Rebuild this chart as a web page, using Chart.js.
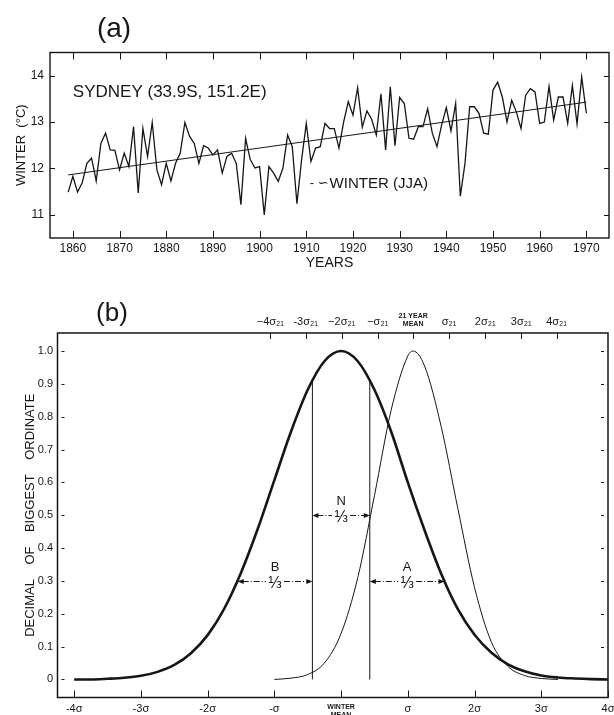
<!DOCTYPE html>
<html>
<head>
<meta charset="utf-8">
<title>Sydney winter temperature and tercile curves</title>
<script src="https://cdn.jsdelivr.net/npm/chart.js@4.4.1/dist/chart.umd.min.js"></script>
<style>
  html, body { margin: 0; padding: 0; background: #fff; overflow: hidden; }
  #wrapA { position: absolute; left: 0; top: 0; width: 614px; height: 300px; }
  #wrapB { position: absolute; left: 0; top: 300px; width: 614px; height: 415px; }
</style>
</head>
<body>
<div id="wrapA"><canvas id="winterChart" width="614" height="300"></canvas></div>
<div id="wrapB"><canvas id="curveChart" width="614" height="415"></canvas></div>
<script>
// ---------- data, panel (a) ----------
var firstYear = 1859;
// winter (JJA) mean temperature, Sydney, 1859..1970
var winterTemps = [
  11.49, 11.83, 11.49, 11.69, 12.11, 12.22, 11.73, 12.54, 12.76, 12.40, 12.39,   // 1859-1869
  11.97, 12.33, 12.04, 12.90, 11.47, 12.86, 12.26, 12.99, 11.97, 11.65,          // 1870-1879
  12.11, 11.73, 12.11, 12.33, 12.99, 12.69, 12.54, 12.11, 12.49, 12.44,          // 1880-1889
  12.29, 12.40, 11.90, 12.26, 12.33, 12.11, 11.22, 12.65, 12.19, 12.01,          // 1890-1899
  12.04, 11.00, 12.04, 11.90, 11.72, 12.01, 12.72, 12.47, 11.24, 12.19,          // 1900-1909
  12.97, 12.15, 12.44, 12.47, 12.97, 12.86, 12.86, 12.44, 13.00, 13.44,          // 1910-1919
  13.15, 13.74, 12.89, 13.24, 13.06, 12.72, 13.61, 12.40, 13.76, 12.49,          // 1920-1929
  13.53, 13.40, 12.65, 12.63, 12.90, 12.90, 13.29, 12.76, 12.47, 12.94,          // 1930-1939
  13.31, 12.81, 13.40, 11.40, 12.11, 13.33, 13.33, 13.19, 12.76, 12.74,          // 1940-1949
  13.69, 13.86, 13.54, 13.00, 13.47, 13.22, 12.86, 13.58, 13.72, 13.65,          // 1950-1959
  12.97, 13.00, 13.77, 13.04, 13.54, 13.54, 12.97, 13.79, 12.96, 13.97,          // 1960-1969
  13.19                                                                          // 1970
];
var trendYears = [1859, 1970];
var trendTemps = [11.86, 13.43];
var decadeTicks = [1860, 1870, 1880, 1890, 1900, 1910, 1920, 1930, 1940, 1950, 1960, 1970];
var tempTicks = [11, 12, 13, 14];

// ---------- data, panel (b) ----------
// winter distribution (thick), in units of sigma from the winter mean
var winterX = [-4, -3.75, -3.5, -3.25, -3, -2.75, -2.5, -2.25, -2, -1.75, -1.5, -1.25, -1, -0.75, -0.5, -0.25, 0,
               0.25, 0.5, 0.75, 1, 1.25, 1.5, 1.75, 2, 2.25, 2.5, 2.75, 3, 3.25, 3.5, 3.75, 4];
var winterY = [0, 0, 0.002, 0.005, 0.011, 0.023, 0.044, 0.08, 0.135, 0.216, 0.325, 0.458, 0.607, 0.755, 0.882, 0.969, 1.0,
               0.969, 0.882, 0.755, 0.6, 0.455, 0.322, 0.214, 0.136, 0.082, 0.046, 0.025, 0.012, 0.006, 0.003, 0.001, 0];
// 21-year mean distribution (thin)
var meanX = [-1, -0.75, -0.5, -0.25, 0, 0.25, 0.5, 0.75, 1, 1.08, 1.25, 1.5, 1.75, 2, 2.25, 2.5, 2.75, 3, 3.25];
var meanY = [0, 0.004, 0.015, 0.05, 0.14, 0.31, 0.56, 0.82, 0.985, 1.0, 0.955, 0.77, 0.52, 0.28, 0.115, 0.04, 0.012, 0.003, 0];
// tercile boundaries of the winter curve and where they meet it
var tercileX = [-0.43, 0.43];
var tercileTop = [0.91, 0.91];
// B / N / A thirds
var thirdLabels = ['B', 'N', 'A'];
var thirdFrom = [-1.55, -0.43, 0.43];
var thirdTo = [-0.43, 0.43, 1.55];
var thirdLevel = [0.3, 0.5, 0.3];

var sigmaTicks = [-4, -3, -2, -1, 0, 1, 2, 3, 4];
var sigmaLabels = ['-4\u03c3', '-3\u03c3', '-2\u03c3', '-\u03c3', ['WINTER', 'MEAN'], '\u03c3', '2\u03c3', '3\u03c3', '4\u03c3'];
var sigma21Ticks = [-1.06, -0.53, 0.01, 0.55, 1.08, 1.62, 2.16, 2.70, 3.23];
var sigma21Labels = ['\u22124\u03c3\u2082\u2081', '-3\u03c3\u2082\u2081', '\u22122\u03c3\u2082\u2081', '\u2212\u03c3\u2082\u2081',
                     ['21 YEAR', 'MEAN'], '\u03c3\u2082\u2081', '2\u03c3\u2082\u2081', '3\u03c3\u2082\u2081', '4\u03c3\u2082\u2081'];
var ordinateTicks = [0, 0.1, 0.2, 0.3, 0.4, 0.5, 0.6, 0.7, 0.8, 0.9, 1.0];

// ---------- shared bits ----------
var INK = '#161616';
var FONT = "'Liberation Sans', 'DejaVu Sans', Arial, sans-serif";

function toPoints(xs, ys) {
  return xs.map(function (x, i) { return { x: x, y: ys[i] }; });
}

// box around the plot plus inward tick marks
var framePlugin = {
  id: 'frame',
  afterDatasetsDraw: function (chart, args, opts) {
    var ctx = chart.ctx, a = chart.chartArea;
    ctx.save();
    ctx.strokeStyle = INK;
    ctx.lineWidth = opts.lineWidth;
    ctx.strokeRect(a.left, a.top, a.right - a.left, a.bottom - a.top);
    ctx.lineWidth = 1;
    opts.marks.forEach(function (m) {
      var s = chart.scales[m.scale];
      var gap = m.gap || 0;
      s.ticks.forEach(function (t) {
        var p = Math.round(s.getPixelForValue(t.value)) + 0.5;
        ctx.beginPath();
        if (m.edge === 'bottom') { ctx.moveTo(p, a.bottom); ctx.lineTo(p, a.bottom - m.len); }
        if (m.edge === 'top') { ctx.moveTo(p, a.top); ctx.lineTo(p, a.top + m.len); }
        if (m.edge === 'left') { ctx.moveTo(a.left + gap, p); ctx.lineTo(a.left + gap + m.len, p); }
        if (m.edge === 'right') { ctx.moveTo(a.right - gap, p); ctx.lineTo(a.right - gap - m.len, p); }
        ctx.stroke();
      });
    });
    ctx.restore();
  }
};

// ---------- panel (a) ----------
var panelAText = {
  id: 'panelAText',
  afterDatasetsDraw: function (chart) {
    var ctx = chart.ctx, sx = chart.scales.x, sy = chart.scales.y;
    ctx.save();
    ctx.fillStyle = INK;
    ctx.textBaseline = 'middle';
    ctx.textAlign = 'center';
    ctx.font = '28px ' + FONT;
    ctx.fillText('(a)', 114, 29);
    ctx.textAlign = 'left';
    ctx.font = '17px ' + FONT;
    ctx.fillText('SYDNEY (33.9S, 151.2E)', sx.getPixelForValue(1860), sy.getPixelForValue(13.65));
    var wx = sx.getPixelForValue(1915), wy = sy.getPixelForValue(11.67);
    ctx.font = '15px ' + FONT;
    ctx.fillText('WINTER (JJA)', wx, wy);
    ctx.textAlign = 'right';
    ctx.font = '13px ' + FONT;
    ctx.fillText('- \u223d', wx - 1, wy);
    ctx.restore();
  }
};

new Chart(document.getElementById('winterChart'), {
  type: 'line',
  data: {
    datasets: [{
      data: winterTemps.map(function (v, i) { return { x: firstYear + i, y: v }; }),
      borderColor: INK,
      borderWidth: 1.3,
      pointRadius: 0,
      tension: 0
    }, {
      data: toPoints(trendYears, trendTemps),
      borderColor: INK,
      borderWidth: 1,
      pointRadius: 0
    }]
  },
  options: {
    responsive: false,
    animation: false,
    layout: { padding: { left: 0, right: 5, top: 52.5, bottom: 0 } },
    plugins: {
      legend: { display: false },
      tooltip: { enabled: false },
      frame: {
        lineWidth: 1.4,
        marks: [
          { scale: 'x', edge: 'bottom', len: 7 },
          { scale: 'x', edge: 'top', len: 7 },
          { scale: 'y', edge: 'left', len: 5 },
          { scale: 'y', edge: 'right', len: 5 }
        ]
      }
    },
    scales: {
      x: {
        type: 'linear',
        min: 1855.1,
        max: 1974.85,
        afterBuildTicks: function (s) { s.ticks = decadeTicks.map(function (v) { return { value: v }; }); },
        afterFit: function (s) { s.height = 62; s.paddingLeft = 0; s.paddingRight = 0; },
        grid: { display: false, drawTicks: false },
        border: { display: false },
        ticks: {
          autoSkip: false, maxRotation: 0, padding: 3, color: INK,
          font: { family: FONT, size: 12 },
          callback: function (v) { return String(v); }
        },
        title: {
          display: true, text: 'YEARS', color: INK,
          font: { family: FONT, size: 14 },
          padding: { top: 0, bottom: 28.3 }
        }
      },
      y: {
        min: 10.5,
        max: 14.5,
        afterBuildTicks: function (s) { s.ticks = tempTicks.map(function (v) { return { value: v }; }); },
        afterFit: function (s) { s.width = 50; },
        grid: { display: false, drawTicks: false },
        border: { display: false },
        ticks: { padding: 6, color: INK, font: { family: FONT, size: 12 } },
        title: {
          display: true, text: 'WINTER\u00a0\u00a0(\u00b0C)', color: INK,
          font: { family: FONT, size: 13 },
          padding: { top: 13.9, bottom: 0 }
        }
      }
    }
  },
  plugins: [framePlugin, panelAText]
});

// ---------- panel (b) ----------
var thirdsPlugin = {
  id: 'thirds',
  afterDatasetsDraw: function (chart) {
    var ctx = chart.ctx, sx = chart.scales.x, sy = chart.scales.y;
    function head(x, y, dir) {
      ctx.beginPath();
      ctx.moveTo(x, y);
      ctx.lineTo(x - dir * 6, y - 2.5);
      ctx.lineTo(x - dir * 6, y + 2.5);
      ctx.closePath();
      ctx.fill();
    }
    ctx.save();
    ctx.strokeStyle = INK;
    ctx.fillStyle = INK;
    ctx.lineWidth = 1;
    thirdLabels.forEach(function (lab, i) {
      var x1 = sx.getPixelForValue(thirdFrom[i]), x2 = sx.getPixelForValue(thirdTo[i]);
      var yy = Math.round(sy.getPixelForValue(thirdLevel[i])) + 0.5;
      var cx = (x1 + x2) / 2;
      ctx.setLineDash([6, 2, 1, 2]);
      ctx.beginPath();
      ctx.moveTo(x1 + 5, yy); ctx.lineTo(cx - 9, yy);
      ctx.moveTo(cx + 9, yy); ctx.lineTo(x2 - 5, yy);
      ctx.stroke();
      ctx.setLineDash([]);
      head(x1, yy, -1);
      head(x2, yy, 1);
      ctx.textAlign = 'center';
      ctx.textBaseline = 'middle';
      ctx.font = '13px ' + FONT;
      ctx.fillText(lab, cx, yy - 14);
      ctx.font = '16px ' + FONT;
      ctx.fillText('\u2153', cx, yy + 2);
    });
    ctx.font = '26px ' + FONT;
    ctx.textAlign = 'center';
    ctx.textBaseline = 'middle';
    ctx.fillText('(b)', 112, 14);
    ctx.restore();
  }
};

function smallIfTwoLines(c) {
  var two = c.tick && Array.isArray(c.tick.label);
  return two ? { family: FONT, size: 7, weight: 'bold' } : { family: FONT, size: 11 };
}

new Chart(document.getElementById('curveChart'), {
  type: 'line',
  data: {
    datasets: [{
      data: toPoints(winterX, winterY),
      borderColor: INK, borderWidth: 2.6, pointRadius: 0,
      cubicInterpolationMode: 'monotone'
    }, {
      data: toPoints(meanX, meanY),
      borderColor: INK, borderWidth: 1, pointRadius: 0,
      cubicInterpolationMode: 'monotone'
    }, {
      data: toPoints([tercileX[0], tercileX[0]], [0, tercileTop[0]]),
      borderColor: INK, borderWidth: 1, pointRadius: 0, tension: 0
    }, {
      data: toPoints([tercileX[1], tercileX[1]], [0, tercileTop[1]]),
      borderColor: INK, borderWidth: 1, pointRadius: 0, tension: 0
    }]
  },
  options: {
    responsive: false,
    animation: false,
    layout: { padding: { left: 0, right: 6, top: 0, bottom: 0 } },
    plugins: {
      legend: { display: false },
      tooltip: { enabled: false },
      frame: {
        lineWidth: 1.5,
        marks: [
          { scale: 'x', edge: 'bottom', len: 7 },
          { scale: 'x2', edge: 'top', len: 6 },
          { scale: 'y', edge: 'left', len: 3, gap: 4 },
          { scale: 'y', edge: 'right', len: 3, gap: 4 }
        ]
      }
    },
    scales: {
      x: {
        type: 'linear',
        position: 'bottom',
        min: -4.25,
        max: 4.0,
        afterBuildTicks: function (s) { s.ticks = sigmaTicks.map(function (v) { return { value: v }; }); },
        afterFit: function (s) { s.height = 17.5; s.paddingLeft = 0; s.paddingRight = 0; },
        grid: { display: false, drawTicks: false },
        border: { display: false },
        ticks: {
          autoSkip: false, maxRotation: 0, padding: 5, color: INK,
          font: smallIfTwoLines,
          callback: function (v, i) { return sigmaLabels[i]; }
        }
      },
      x2: {
        type: 'linear',
        position: 'top',
        min: -4.25,
        max: 4.0,
        afterBuildTicks: function (s) { s.ticks = sigma21Ticks.map(function (v) { return { value: v }; }); },
        afterFit: function (s) { s.height = 33; s.paddingLeft = 0; s.paddingRight = 0; },
        grid: { display: false, drawTicks: false },
        border: { display: false },
        ticks: {
          autoSkip: false, maxRotation: 0, padding: 4.5, color: INK,
          font: smallIfTwoLines,
          callback: function (v, i) { return sigma21Labels[i]; }
        }
      },
      y: {
        min: -0.055,
        max: 1.055,
        afterBuildTicks: function (s) { s.ticks = ordinateTicks.map(function (v) { return { value: v }; }); },
        afterFit: function (s) { s.width = 57.5; },
        grid: { display: false, drawTicks: false },
        border: { display: false },
        ticks: {
          padding: 4.5, color: INK,
          font: { family: FONT, size: 11 },
          callback: function (v) { return v === 0 ? '0' : v.toFixed(1); }
        },
        title: {
          display: true,
          text: 'DECIMAL\u00a0\u00a0\u00a0\u00a0OF\u00a0\u00a0\u00a0\u00a0BIGGEST\u00a0\u00a0\u00a0\u00a0ORDINATE',
          color: INK,
          font: { family: FONT, size: 13 },
          padding: { top: 22.9, bottom: 0 }
        }
      }
    }
  },
  plugins: [framePlugin, thirdsPlugin]
});
</script>
</body>
</html>
